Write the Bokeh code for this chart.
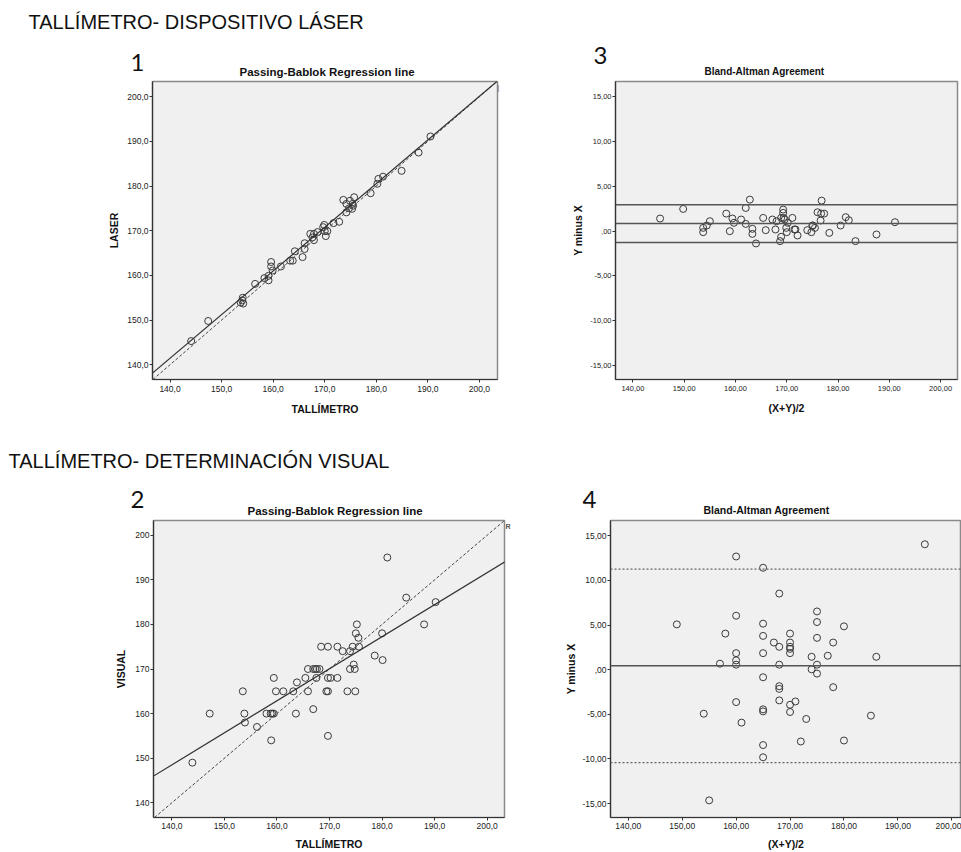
from bokeh.plotting import figure
from bokeh.models import Range1d, FixedTicker, Label, Slope, Span
from bokeh.layouts import column, row
from bokeh.embed import file_html
from bokeh.resources import INLINE

# ---------------- data ----------------
# Panel 1: TALLIMETRO vs LASER
tal_laser = [144.1, 147.4, 154.1, 154.0, 153.7, 154.2, 156.5, 158.3, 159.1, 159.6,
             159.6, 159.9, 159.1, 161.5, 163.3, 163.8, 164.2, 165.7, 166.1, 166.1,
             167.2, 167.6, 167.9, 167.9, 168.6, 169.7, 169.9, 170.0, 170.2, 170.5,
             171.7, 172.8, 173.6, 174.2, 174.2, 174.7, 174.9, 175.3, 175.4, 175.7,
             175.5, 178.9, 180.2, 180.4, 181.3, 184.9, 188.2, 190.5]
laser = [145.3, 149.8, 155.0, 154.4, 153.9, 153.7, 158.1, 159.4, 158.9, 163.0,
         162.0, 161.1, 159.9, 162.0, 163.3, 163.3, 165.4, 164.1, 165.9, 167.2,
         169.3, 168.5, 169.3, 167.9, 169.7, 170.8, 171.3, 169.9, 168.8, 169.9,
         171.7, 172.0, 176.9, 174.1, 176.0, 175.0, 176.7, 174.9, 176.0, 177.5,
         175.6, 178.4, 180.5, 181.6, 182.1, 183.4, 187.5, 191.1]
pb1_intercept = 4.6
pb1_slope = 0.9775

# Panel 3: Bland-Altman laser
ba1_mean = [145.3, 149.8, 153.7, 153.7, 154.4, 155.0, 158.2, 158.9, 159.4, 159.7,
            161.1, 162.0, 162.0, 162.8, 163.3, 163.3, 164.0, 165.4, 165.9, 167.2,
            167.8, 168.0, 168.7, 168.9, 168.9, 169.3, 169.3, 169.4, 169.6, 169.9,
            170.0, 170.2, 171.1, 171.5, 171.7, 172.1, 174.0, 174.8, 175.0, 175.1,
            175.5, 176.0, 176.6, 176.7, 176.8, 177.3, 178.3, 180.5, 181.5, 182.1,
            183.4, 187.5, 191.1]
ba1_diff = [1.41, 2.48, 0.37, -0.11, 0.63, 1.11, 1.96, 0.0, 1.41, 0.93,
            1.30, 2.59, 0.81, 3.52, 0.26, -0.30, -1.37, 1.48, 0.11, 1.30,
            0.19, 1.11, -1.11, -0.63, 1.48, 2.41, 2.04, 1.48, 1.30, 0.37,
            -0.11, 0.93, 1.48, 0.19, 0.19, -0.48, 0.11, -0.11, 0.63, 0.63,
            0.37, 2.11, 1.19, 1.96, 3.41, 1.96, -0.19, 0.63, 1.56, 1.22,
            -1.11, -0.37, 1.00]
ba1_lines = [2.95, 0.85, -1.25]

# Panel 2: TALLIMETRO vs VISUAL
tal_visual = [143.9, 147.2, 153.5, 153.8, 153.9, 156.2, 158.0, 158.8, 159.1, 159.4,
              158.9, 159.4, 159.8, 161.2, 163.1, 163.8, 163.6, 165.4, 165.9, 165.9,
              166.9, 166.9, 167.3, 167.5, 167.6, 168.1, 168.4, 169.4, 169.7, 169.7,
              169.7, 169.7, 170.2, 171.5, 171.5, 172.5, 173.4, 173.9, 173.9, 174.4,
              174.6, 174.8, 174.9, 175.0, 175.2, 175.5, 175.6, 178.6, 180.0, 180.1,
              181.0, 184.6, 188.0, 190.2]
visual = [149, 160, 165, 160, 158, 157, 160, 160, 160, 160,
          154, 168, 165, 165, 165, 167, 160, 168, 165, 170,
          170, 161, 170, 168, 170, 170, 175, 165, 165, 175,
          155, 168, 168, 168, 175, 174, 165, 170, 174, 175,
          171, 170, 165, 178, 180, 177, 175, 173, 178, 172,
          195, 186, 180, 185]
pb2_intercept = 47.9
pb2_slope = 0.7186

# Panel 4: Bland-Altman visual
ba2_mean = [149, 154, 155, 157, 158, 160, 160, 160, 160, 160,
            160, 161, 165, 165, 165, 165, 165, 165, 165, 165,
            165, 167, 168, 168, 168, 168, 168, 168, 170, 170,
            170, 170, 170, 170, 170, 171, 172, 173, 174, 174,
            175, 175, 175, 175, 175, 177, 178, 178, 180, 180,
            185, 186, 195]
ba2_diff = [5.07, -4.93, -14.63, 0.67, 4.04, 12.67, 6.04, 1.85, 1.04, 0.56,
            -3.63, -5.93, 11.41, 5.15, 3.78, 1.85, -0.85, -4.44, -4.67, -8.44,
            -9.81, 3.04, 8.52, 2.56, 0.56, -1.85, -2.15, -3.44, 4.04, 3.04,
            2.56, 2.33, 1.85, -3.93, -4.74, -3.56, -8.04, -5.52, 1.44, 0.04,
            6.52, 5.33, 3.56, 0.56, -0.44, 1.56, 3.04, -1.96, 4.85, -7.93,
            -5.15, 1.44, 14.04]
ba2_mean_line = [0.43]
ba2_limits = [11.26, -10.40]

# tick values and labels
x_ticks = [140, 150, 160, 170, 180, 190, 200]
x_labels_1 = ["140,0", "150,0", "160,0", "170,0", "180,0", "190,0", "200,0"]
x_labels_ba = ["140,00", "150,00", "160,00", "170,00", "180,00", "190,00", "200,00"]
y_labels_2 = ["140", "150", "160", "170", "180", "190", "200"]
ba_ticks = [-15, -10, -5, 0, 5, 10, 15]
ba_labels = ["-15,00", "-10,00", "-5,00", ",00", "5,00", "10,00", "15,00"]

titles = ["Passing-Bablok Regression line", "Bland-Altman Agreement"]
headers = ["TALLÍMETRO- DISPOSITIVO LÁSER", "TALLÍMETRO-  DETERMINACIÓN VISUAL"]
panel_numbers = ["1", "3", "2", "4"]

FONT = "Liberation Sans"
BG = "#f0f0f0"
INK = "#333333"


def make_fig(w, h, xr, yr, bl, br, bt, bb, tick_font="8.5px"):
    p = figure(width=w, height=h, x_range=Range1d(*xr), y_range=Range1d(*yr),
               min_border_left=bl, min_border_right=br, min_border_top=bt,
               min_border_bottom=bb, output_backend="svg", toolbar_location=None,
               title=None)
    p.background_fill_color = BG
    p.border_fill_color = "white"
    p.outline_line_color = "#8a8a8a"
    p.outline_line_width = 1.5
    p.grid.visible = False
    for ax in (p.xaxis[0], p.yaxis[0]):
        ax.axis_line_color = INK
        ax.axis_line_width = 1.2
        ax.major_tick_line_color = INK
        ax.major_tick_out = 3
        ax.major_tick_in = 0
        ax.minor_tick_line_color = None
        ax.major_label_text_font = FONT
        ax.major_label_text_font_size = tick_font
        ax.major_label_text_color = "#222222"
        ax.axis_label_text_font = FONT
        ax.axis_label_text_font_size = "10.5px"
        ax.axis_label_text_font_style = "bold"
        ax.axis_label_text_color = "#111111"
    p.xaxis[0].major_label_standoff = 3
    p.xaxis[0].axis_label_standoff = 8
    p.yaxis[0].major_label_standoff = 1
    p.yaxis[0].axis_label_standoff = 4
    # frame height, used to place texts above the frame
    p.tags = [h - bt - bb]
    return p


def set_ticks(axis, ticks, labels):
    axis.ticker = FixedTicker(ticks=ticks)
    axis.major_label_overrides = {t: l for t, l in zip(ticks, labels)}


def add_text(p, x_px, above_px, text, size, bold=False, font=FONT, color="#111111"):
    """x_px: pixels from the frame's left edge; above_px: pixels above the frame top."""
    yr = p.y_range
    frame_h = p.tags[0]
    y = yr.end + above_px * (yr.end - yr.start) / frame_h
    p.add_layout(Label(x=x_px, y=y, x_units="screen", y_units="data", text=text,
                       text_font=font, text_font_size=size,
                       text_font_style="bold" if bold else "normal",
                       text_color=color, text_baseline="alphabetic",
                       text_align="left"), "above")


def scatter(p, xs, ys):
    p.scatter(xs, ys, marker="circle", size=7, fill_color=None,
              line_color="#3a3a3a", line_width=1)


# ---------------- panel 1 ----------------
p1 = make_fig(560, 440, (136.6, 203.5), (136.7, 203.4), 152, 63, 81, 61)
set_ticks(p1.xaxis[0], x_ticks, x_labels_1)
set_ticks(p1.yaxis[0], x_ticks, x_labels_1)
p1.xaxis[0].axis_label = "TALLÍMETRO"
p1.yaxis[0].axis_label = "LASER"
p1.add_layout(Slope(gradient=1, y_intercept=0, line_color="#444444",
                    line_width=1, line_dash="3 2"))
p1.add_layout(Slope(gradient=pb1_slope, y_intercept=pb1_intercept,
                    line_color="#333333", line_width=1.2))
scatter(p1, tal_laser, laser)
add_text(p1, -124, 60, headers[0], "20px")
add_text(p1, -22, 19, panel_numbers[0], "24px", font="Lato")
add_text(p1, 87, 10, titles[0], "11.5px", bold=True)
add_text(p1, 345, -6, "|", "7px", color="#666666")

# ---------------- panel 3 ----------------
p3 = make_fig(401, 440, (136.6, 203.3), (-16.55, 16.7), 55, 4, 81, 60,
              tick_font="7.5px")
set_ticks(p3.xaxis[0], x_ticks, x_labels_ba)
set_ticks(p3.yaxis[0], ba_ticks, ba_labels)
p3.xaxis[0].axis_label = "(X+Y)/2"
p3.yaxis[0].axis_label = "Y minus X"
p3.yaxis[0].axis_label_standoff = 3
for v in ba1_lines:
    p3.add_layout(Span(location=v, dimension="width", line_color="#555555",
                       line_width=1.5))
scatter(p3, ba1_mean, ba1_diff)
add_text(p3, -22, 26, panel_numbers[1], "24px", font="Lato")
add_text(p3, 89, 10, titles[1], "10px", bold=True)

# ---------------- panel 2 ----------------
p2 = make_fig(560, 412, (136.5, 203.3), (136.7, 203.3), 153, 56, 80, 35)
set_ticks(p2.xaxis[0], x_ticks, x_labels_1)
set_ticks(p2.yaxis[0], x_ticks, y_labels_2)
p2.xaxis[0].axis_label = "TALLÍMETRO"
p2.yaxis[0].axis_label = "VISUAL"
p2.xaxis[0].major_label_standoff = 2
p2.xaxis[0].axis_label_standoff = 6
p2.yaxis[0].axis_label_standoff = 5
p2.add_layout(Slope(gradient=1, y_intercept=0, line_color="#444444",
                    line_width=1, line_dash="3 2"))
p2.add_layout(Slope(gradient=pb2_slope, y_intercept=pb2_intercept,
                    line_color="#333333", line_width=1.2))
scatter(p2, tal_visual, visual)
add_text(p2, -145, 60, headers[1], "20px")
add_text(p2, -23, 21, panel_numbers[2], "24px", font="Lato")
add_text(p2, 94, 10, titles[0], "11.5px", bold=True)
add_text(p2, 352, -6, "R", "7px", bold=True, color="#555555")

# ---------------- panel 4 ----------------
p4 = make_fig(401, 412, (136.7, 201.8), (-16.55, 16.7), 50, 0, 80, 35)
set_ticks(p4.xaxis[0], x_ticks, x_labels_ba)
set_ticks(p4.yaxis[0], ba_ticks, ba_labels)
p4.xaxis[0].axis_label = "(X+Y)/2"
p4.yaxis[0].axis_label = "Y minus X"
p4.xaxis[0].major_label_standoff = 2
p4.xaxis[0].axis_label_standoff = 6
p4.yaxis[0].axis_label_standoff = 2
for v in ba2_mean_line:
    p4.add_layout(Span(location=v, dimension="width", line_color="#555555",
                       line_width=1.5))
for v in ba2_limits:
    p4.add_layout(Span(location=v, dimension="width", line_color="#666666",
                       line_width=1.2, line_dash="2 2"))
scatter(p4, ba2_mean, ba2_diff)
add_text(p4, -28, 21, panel_numbers[3], "24px", font="Lato")
add_text(p4, 93, 11, titles[1], "10.5px", bold=True)

layout = column(row(p1, p3), row(p2, p4))
open("out.html", "w").write(file_html(layout, INLINE))
